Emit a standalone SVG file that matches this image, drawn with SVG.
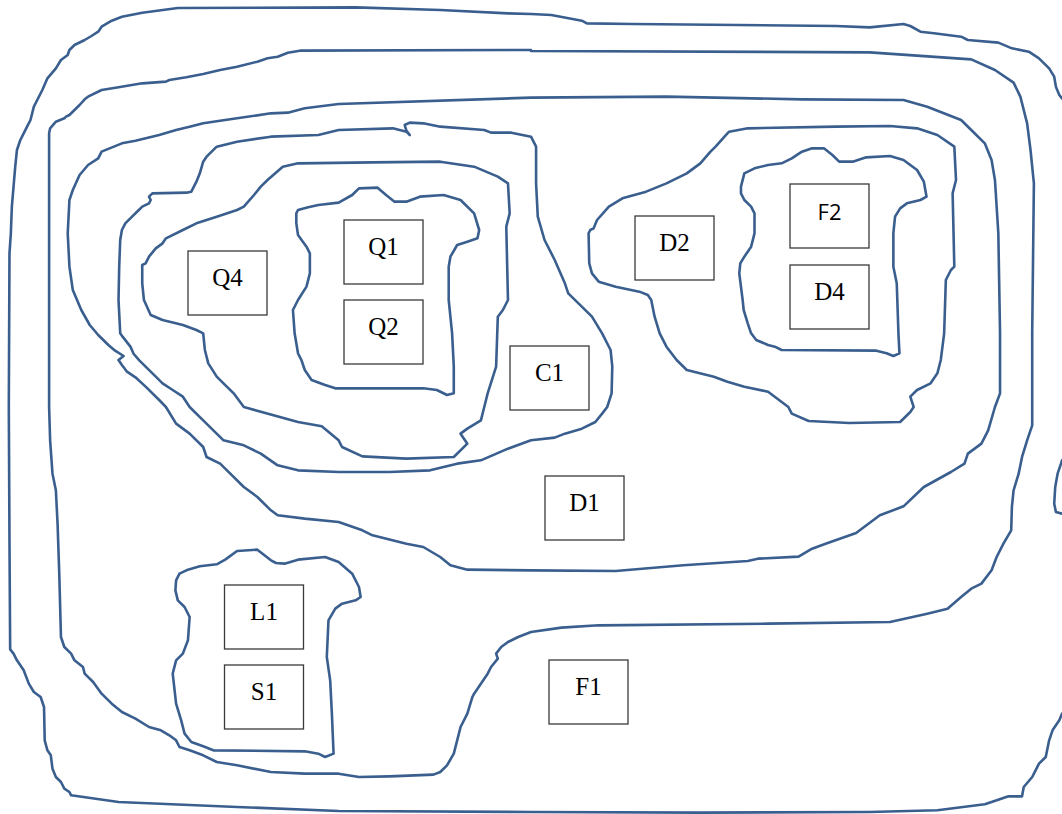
<svg xmlns="http://www.w3.org/2000/svg" width="1062" height="814" viewBox="0 0 1062 814">
<style>
.c{fill:none;stroke:#3a5f8f;stroke-width:2.6;stroke-linejoin:round;stroke-linecap:round;vector-effect:non-scaling-stroke}
.b{fill:#fff;stroke:#3a3a3a;stroke-width:1.3}
.t{font-family:"Liberation Serif","Times New Roman",serif;font-size:25px;fill:#000;text-anchor:middle}
.s{font-family:"Open Sans","Liberation Sans",sans-serif;font-size:22px;fill:#000;text-anchor:middle}
</style>
<rect width="1062" height="814" fill="#fff"/>
<g id="regions" transform="scale(0.33865 0.33333)">
<path id="outer" class="c" d="M3136,295 L3128,285 3118,260 3113,230 3098,205 3068,175 3038,155 2988,145 2948,128 2858,120 2838,110 2758,100 2718,95 2688,78 2668,72 2568,82 2468,78 1868,72 1733,70 1718,62 1628,45 1568,42 1500,40 1300,30 1050,22 525,24 420,38 360,50 330,62 300,80 290,95 270,108 250,120 220,135 205,150 200,165 180,180 165,205 140,235 125,270 110,300 100,320 90,360 80,380 70,400 60,420 50,450 45,500 40,560 35,620 32,700 28,760 26,1221 28,1621 30,1948 40,1961 50,1981 70,2011 85,2051 100,2076 120,2091 130,2121 132,2221 140,2251 150,2266 155,2306 165,2331 180,2346 190,2366 205,2376 210,2386 350,2406 700,2421 1000,2433 1568,2436 2068,2438 2568,2436 2768,2431 2908,2413 2928,2406 2978,2389 3018,2389 3023,2361 3048,2331 3058,2311 3068,2291 3088,2271 3098,2221 3108,2191 3128,2161 3136,2141"/>
<path id="edge-arc" class="c" d="M3136,1381 L3133,1391 3123,1421 3116,1461 3113,1511 3118,1536 3136,1541"/>
<path id="region2" class="c" d="M1568,150 L885,152 850,158 820,170 790,175 760,185 700,200 650,210 600,222 550,232 500,240 490,245 420,250 350,262 300,270 260,290 250,298 235,315 220,330 205,345 195,350 190,355 165,365 148,385 145,400 145,1221 148,1321 155,1421 165,1471 170,1571 175,1721 180,1911 190,1941 210,1961 220,1981 245,2001 250,2021 275,2046 300,2081 330,2111 360,2136 400,2156 440,2181 475,2191 500,2206 520,2221 530,2241 560,2251 600,2266 640,2286 700,2296 800,2316 900,2321 1000,2321 1060,2331 1150,2329 1280,2324 1300,2316 1320,2296 1340,2261 1350,2221 1360,2181 1380,2141 1395,2091 1400,2081 1420,2051 1440,2021 1450,2001 1470,1976 1465,1961 1480,1941 1500,1926 1530,1911 1568,1896 1658,1883 1768,1876 2268,1871 2628,1866 2738,1841 2798,1826 2838,1791 2868,1766 2898,1751 2928,1711 2943,1671 2963,1631 2986,1591 2988,1521 2993,1471 3008,1421 3018,1371 3033,1321 3048,1276 3048,1221 3048,1000 3053,550 3043,450 3033,370 3013,290 2993,248 2938,210 2868,178 2568,157 1568,153 Z"/>
<path id="region3" class="c" d="M1568,293 L1000,312 900,325 850,338 800,340 700,355 600,370 560,380 520,390 470,405 400,422 360,430 300,455 290,475 260,495 235,525 215,570 205,600 200,700 205,800 215,870 240,930 265,975 290,1005 320,1035 340,1052 365,1068 350,1080 360,1095 375,1115 400,1132 430,1160 470,1200 490,1221 520,1271 560,1301 600,1341 610,1371 650,1391 680,1421 720,1461 760,1491 800,1531 820,1546 900,1556 1000,1566 1070,1591 1100,1606 1200,1631 1250,1641 1300,1671 1330,1696 1380,1709 1568,1711 1818,1713 2018,1696 2208,1683 2238,1676 2358,1670 2398,1646 2438,1631 2528,1599 2598,1546 2668,1519 2728,1461 2808,1416 2848,1391 2858,1361 2898,1331 2918,1291 2938,1221 2953,1180 2953,1000 2948,700 2938,540 2928,480 2908,430 2868,390 2838,360 2738,320 2668,300 2368,298 1968,290 Z"/>
<path id="regionC" class="c" d="M1195,375 L1210,368 1250,370 1300,380 1430,390 1450,398 1510,398 1568,410 1583,440 1583,550 1588,650 1608,720 1638,780 1668,850 1678,880 1718,920 1748,950 1778,1000 1803,1050 1808,1100 1806,1180 1793,1221 1778,1241 1758,1266 1718,1286 1668,1301 1638,1313 1568,1321 1500,1346 1420,1381 1350,1391 1270,1411 1150,1416 1000,1416 880,1411 820,1396 770,1361 720,1336 660,1321 600,1261 560,1221 540,1190 510,1170 480,1150 460,1130 430,1100 412,1082 395,1062 385,1040 362,1010 355,1000 350,900 352,800 355,720 360,690 370,670 390,650 410,630 420,620 440,610 445,600 440,590 450,580 550,578 565,575 580,545 590,520 600,485 610,470 640,440 700,425 800,410 940,405 1000,390 1160,385 1200,395 1210,405 1200,392 Z"/>
<path id="regionQ4" class="c" d="M835,500 L880,490 1100,487 1300,485 1400,500 1470,530 1500,550 1505,640 1495,680 1500,900 1485,930 1470,950 1465,1100 1440,1180 1430,1221 1420,1261 1380,1286 1360,1301 1380,1331 1340,1371 1200,1376 1070,1369 1010,1341 1000,1321 950,1279 880,1266 720,1221 690,1180 660,1150 640,1130 615,1090 605,1050 600,1000 580,990 540,975 480,960 445,945 425,900 420,850 420,795 430,790 440,770 460,745 480,730 490,715 540,690 580,670 640,650 700,630 720,620 750,585 770,560 790,540 Z"/>
<path id="regionQ1" class="c" d="M875,640 L880,630 910,622 940,615 1000,608 1040,585 1060,565 1115,563 1140,585 1165,605 1200,605 1240,590 1310,585 1360,600 1400,640 1415,690 1410,715 1380,725 1350,735 1330,770 1325,800 1325,900 1330,950 1335,1000 1340,1100 1340,1180 1320,1185 1290,1170 1250,1165 990,1165 960,1155 920,1140 900,1110 890,1080 880,1060 870,1000 865,930 880,900 905,860 915,820 915,760 905,740 880,705 875,670 Z"/>
<path id="regionD2" class="c" d="M2153,395 L2208,385 2468,380 2628,378 2708,385 2768,405 2818,440 2823,540 2813,580 2818,800 2808,810 2793,840 2788,1000 2778,1080 2768,1120 2748,1150 2708,1170 2688,1190 2698,1221 2688,1236 2658,1266 2508,1269 2388,1263 2338,1241 2328,1221 2268,1175 2198,1160 2148,1145 2108,1130 2028,1110 1998,1080 1968,1040 1948,1000 1933,950 1923,900 1913,885 1888,875 1818,860 1768,845 1748,820 1740,790 1738,700 1743,690 1753,685 1763,660 1798,620 1838,595 1908,575 1968,550 2028,520 2048,505 2068,490 2098,455 2113,440 2148,400 Z"/>
<path id="regionF2" class="c" d="M2188,560 L2198,520 2228,505 2268,495 2308,490 2338,475 2368,455 2398,445 2433,445 2458,465 2478,485 2518,485 2558,472 2628,468 2668,480 2708,510 2728,545 2736,590 2718,600 2678,610 2658,625 2643,650 2638,700 2638,800 2648,850 2653,1000 2656,1060 2638,1068 2618,1060 2588,1052 2308,1050 2288,1040 2268,1035 2233,1020 2218,1000 2208,970 2196,930 2193,900 2183,820 2186,790 2198,770 2218,740 2228,700 2228,640 2218,620 2198,600 2188,580 Z"/>
<path id="regionL1" class="c" d="M520,1741 L530,1721 555,1709 590,1699 640,1693 665,1679 700,1653 760,1649 800,1681 815,1689 840,1691 880,1679 960,1671 1000,1686 1040,1721 1060,1761 1065,1791 1050,1801 1010,1811 990,1826 970,1861 965,1971 975,2041 980,2141 985,2261 960,2271 940,2261 900,2254 630,2251 600,2239 565,2226 545,2201 535,2161 520,2111 510,2021 520,1981 540,1961 555,1921 560,1851 545,1821 525,1801 518,1771 Z"/>
</g>
<g id="Q4"><rect class="b" x="188" y="251" width="79" height="64"/><text class="t" x="227.5" y="285.5">Q4</text></g>
<g id="Q1"><rect class="b" x="344" y="220" width="79" height="64"/><text class="t" x="383.5" y="255">Q1</text></g>
<g id="Q2"><rect class="b" x="344" y="300" width="79" height="64"/><text class="t" x="383.5" y="335">Q2</text></g>
<g id="C1"><rect class="b" x="510" y="346" width="79" height="64"/><text class="t" x="549.5" y="381">C1</text></g>
<g id="D2"><rect class="b" x="635" y="216" width="79" height="64"/><text class="t" x="674.5" y="251">D2</text></g>
<g id="F2"><rect class="b" x="790" y="184" width="79" height="64"/><text class="s" x="829.5" y="220">F2</text></g>
<g id="D4"><rect class="b" x="790" y="265" width="79" height="64"/><text class="t" x="829.5" y="300">D4</text></g>
<g id="D1"><rect class="b" x="545" y="476" width="79" height="64"/><text class="t" x="584.5" y="511">D1</text></g>
<g id="L1"><rect class="b" x="224.5" y="585" width="79" height="64"/><text class="t" x="264" y="620">L1</text></g>
<g id="S1"><rect class="b" x="224.5" y="665" width="79" height="64"/><text class="t" x="264" y="700">S1</text></g>
<g id="F1"><rect class="b" x="549" y="660" width="79" height="64"/><text class="t" x="588.5" y="695">F1</text></g>
</svg>
